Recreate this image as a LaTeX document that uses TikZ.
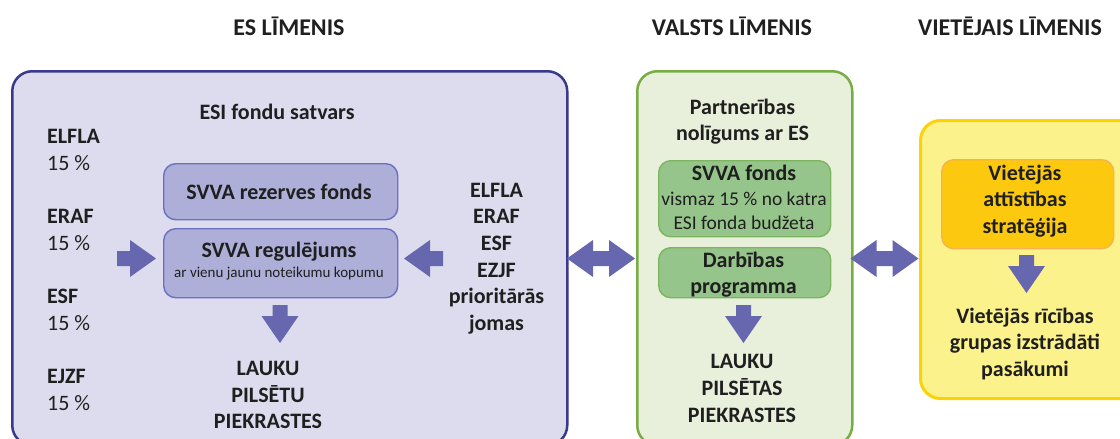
\documentclass[tikz,border=0pt]{standalone}
\usepackage{fontspec}
\setmainfont{Carlito}
\definecolor{esline}{HTML}{3A3A8C}
\definecolor{esfill}{HTML}{DCDCEE}
\definecolor{inboxfill}{HTML}{ADAFD8}
\definecolor{inboxline}{HTML}{6D6FBF}
\definecolor{grline}{HTML}{78AD45}
\definecolor{grfill}{HTML}{E8F0DC}
\definecolor{grinfill}{HTML}{96C58B}
\definecolor{grinline}{HTML}{7DB55E}
\definecolor{yeline}{HTML}{FBD20A}
\definecolor{yefill}{HTML}{FBF28B}
\definecolor{orfill}{HTML}{FDC90E}
\definecolor{orline}{HTML}{F4B350}
\definecolor{arrowc}{HTML}{6667AE}
\definecolor{txtc}{HTML}{1F1F1F}
\tikzset{
  hd/.style={font=\fontsize{24}{28}\selectfont\bfseries, anchor=base, inner sep=0pt, text=txtc},
  bt/.style={font=\fontsize{22}{26}\selectfont\bfseries, anchor=base, inner sep=0pt, text=txtc},
  btl/.style={bt, anchor=base west},
  rtl/.style={font=\fontsize{22}{26}\selectfont, anchor=base west, inner sep=0pt, text=txtc},
  st/.style={font=\fontsize{15}{18}\selectfont, anchor=base, inner sep=0pt, text=txtc},
  mt/.style={font=\fontsize{19.5}{23}\selectfont, anchor=base, inner sep=0pt, text=txtc},
  bigbox/.style={rectangle, anchor=north west, line width=2.5pt, rounded corners=20pt, inner sep=0pt},
  esbox/.style={bigbox, draw=esline, fill=esfill},
  grbox/.style={bigbox, draw=grline, fill=grfill},
  yebox/.style={bigbox, draw=yeline, fill=yefill, line width=3pt},
  smallbox/.style={rectangle, anchor=north west, line width=1.4pt, rounded corners=12pt, inner sep=0pt},
  esin/.style={smallbox, draw=inboxline, fill=inboxfill},
  grin/.style={smallbox, draw=grinline, fill=grinfill},
  orin/.style={smallbox, draw=orline, fill=orfill},
  pics/arrowR/.style={code={\fill[arrowc] (-39,-7.5) -- (-26,-7.5) -- (-26,-18.5) -- (0,0) -- (-26,18.5) -- (-26,7.5) -- (-39,7.5) -- cycle;}},
  pics/arrowL/.style={code={\fill[arrowc] (39,-7.5) -- (26,-7.5) -- (26,-18.5) -- (0,0) -- (26,18.5) -- (26,7.5) -- (39,7.5) -- cycle;}},
  pics/arrowD/.style={code={\fill[arrowc] (-7.5,-38) -- (7.5,-38) -- (7.5,-27) -- (18.5,-27) -- (0,0) -- (-18.5,-27) -- (-7.5,-27) -- cycle;}},
  pics/arrowLR/.style={code={\fill[arrowc] (-34,0) -- (-8,-18.5) -- (-8,-7.5) -- (8,-7.5) -- (8,-18.5) -- (34,0) -- (8,18.5) -- (8,7.5) -- (-8,7.5) -- (-8,18.5) -- cycle;}}
}
\begin{document}
\begin{tikzpicture}[x=1pt,y=-1pt]
\useasboundingbox (0,0) rectangle (1120,439);
\clip (0,0) rectangle (1120,439);
\fill[white] (0,0) rectangle (1120,439);

% headers
\node[hd] (h1) at (289,35.5) {ES LĪMENIS};
\node[hd] (h2) at (732,35.5) {VALSTS LĪMENIS};
\node[hd] (h3) at (1010,35.5) {VIETĒJAIS LĪMENIS};

% big boxes
\node[esbox, minimum width=555pt, minimum height=374pt] (es) at (11,70) {};
\node[grbox, minimum width=215pt, minimum height=374pt] (gr) at (636,70) {};
\node[yebox, minimum width=220pt, minimum height=278pt] (ye) at (919,119) {};

% ES level
\node[bt] (esi) at (277,119) {ESI fondu satvars};
\node[btl] (l1) at (47,143.7) {ELFLA};
\node[rtl] (p1) at (47,170) {15~\%};
\node[btl] (l2) at (47,223.7) {ERAF};
\node[rtl] (p2) at (47,250) {15~\%};
\node[btl] (l3) at (47,303.7) {ESF};
\node[rtl] (p3) at (47,330) {15~\%};
\node[btl] (l4) at (47,383.7) {EJZF};
\node[rtl] (p4) at (47,410) {15~\%};

\node[bt] (r1) at (496.5,197) {ELFLA};
\node[bt] (r2) at (496.5,223.7) {ERAF};
\node[bt] (r3) at (496.5,250.3) {ESF};
\node[bt] (r4) at (496.5,277) {EZJF};
\node[bt] (r5) at (496.5,303.7) {prioritārās};
\node[bt] (r6) at (496.5,330.3) {jomas};

\node[esin, minimum width=234pt, minimum height=56pt] (rez) at (163,163) {};
\node[esin, minimum width=234pt, minimum height=69pt] (reg) at (163,228) {};
\node[bt] (rezt) at (279,199) {SVVA rezerves fonds};
\node[bt] (regt) at (279,257) {SVVA regulējums};
\node[st] (regs) at (279,277) {ar vienu jaunu noteikumu kopumu};

\pic (aR) at (156,258.5) {arrowR};
\pic (aL) at (404,258.5) {arrowL};
\pic (aD1) at (280,343) {arrowD};

\node[bt] (e1) at (268,375.3) {LAUKU};
\node[bt] (e2) at (268,402) {PILSĒTU};
\node[bt] (e3) at (268,428.7) {PIEKRASTES};

% double arrows
\pic (d1) at (601,258.5) {arrowLR};
\pic (d2) at (884.5,258.5) {arrowLR};

% national level
\node[bt] (g1) at (742.5,114) {Partnerības};
\node[bt] (g2) at (742.5,140.3) {nolīgums ar ES};
\node[grin, minimum width=172pt, minimum height=76pt] (fond) at (658,160) {};
\node[grin, minimum width=172pt, minimum height=50pt] (darb) at (658,247) {};
\node[bt] (f1) at (744,180) {SVVA fonds};
\node[mt] (f2) at (744,205) {vismaz 15~\% no katra};
\node[mt] (f3) at (744,229) {ESI fonda budžeta};
\node[bt] (dp1) at (743.5,267) {Darbības};
\node[bt] (dp2) at (743.5,293.5) {programma};
\pic (aD2) at (743.5,343) {arrowD};
\node[bt] (n1) at (742,368.7) {LAUKU};
\node[bt] (n2) at (742,395.3) {PILSĒTAS};
\node[bt] (n3) at (742,422) {PIEKRASTES};

% local level
\node[orin, minimum width=172pt, minimum height=89pt] (strat) at (941,159) {};
\node[bt] (o1) at (1025,180) {Vietējās};
\node[bt] (o2) at (1025,206.7) {attīstības};
\node[bt] (o3) at (1025,233.3) {stratēģija};
\pic (aD3) at (1026.5,293) {arrowD};
\node[bt] (v1) at (1025,323) {Vietējās rīcības};
\node[bt] (v2) at (1025,349.7) {grupas izstrādāti};
\node[bt] (v3) at (1025,376.3) {pasākumi};
\end{tikzpicture}
\end{document}
